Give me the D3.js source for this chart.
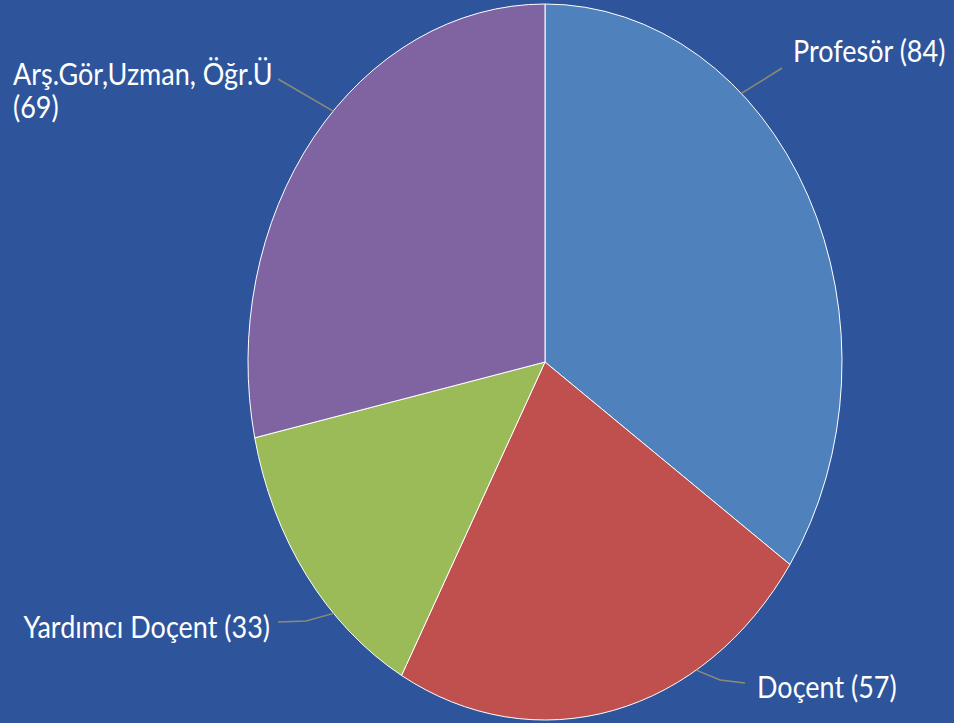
<!DOCTYPE html>
<html>
<head>
<meta charset="utf-8">
<script src="https://cdn.jsdelivr.net/npm/d3@7"></script>
<style>
  html, body { margin: 0; padding: 0; background: #2E559C; }
  svg { display: block; }
  .lbl { font-family: Lato, "Open Sans", sans-serif; font-size: 27px; fill: #ffffff; }
</style>
</head>
<body>
<div id="chart"></div>
<script>
// 数据
const categories = ['Profesör', 'Doçent', 'Yardımcı Doçent', 'Arş.Gör,Uzman, Öğr.Ü'];
const values = [84, 57, 33, 69];
const colors = ['#4F81BD', '#C0504D', '#9BBB59', '#8064A2'];

// 标签布局 (leader angle on the pie edge, line end, text anchor)
const labelLayout = [
  {ang: 41.4, mid: null, end: [782, 68], tx: 793, ty: 62, anchor: 'start', lines: ['Profesör (84)']},
  {ang: 149.4, mid: [720, 680], end: [745, 683], tx: 757, ty: 698, anchor: 'start', lines: ['Doçent (57)']},
  {ang: 225.4, mid: [306, 621], end: [278, 622], tx: 270, ty: 638, anchor: 'end', lines: ['Yardımcı Doçent (33)']},
  {ang: 314.5, mid: null, end: [278, 79], tx: 13, ty: 85, anchor: 'start', lines: ['Arş.Gör,Uzman, Öğr.Ü', '(69)']}
];

const width = 954, height = 723;
const cx = 545, cy = 362, rx = 297, ry = 358;
const textStretch = 1.12; // 原图整体被纵向拉伸

const svg = d3.select('#chart').append('svg')
  .attr('width', width)
  .attr('height', height);

svg.append('rect').attr('width', width).attr('height', height).attr('fill', '#2E559C');

const pie = d3.pie().sort(null).value(d => d);
const arcs = pie(values);
const arc = d3.arc().innerRadius(0).outerRadius(rx);

// ellipse: draw circle, stretch vertically
const g = svg.append('g')
  .attr('transform', `translate(${cx},${cy}) scale(1,${ry / rx})`);

g.selectAll('path.slice')
  .data(arcs)
  .enter().append('path')
  .attr('class', 'slice')
  .attr('d', arc)
  .attr('fill', (d, i) => colors[i])
  .attr('stroke', '#ffffff')
  .attr('stroke-width', 1)
  .attr('vector-effect', 'non-scaling-stroke');

// leader lines
const edge = a => {
  const r = a * Math.PI / 180;
  return [cx + rx * Math.sin(r), cy - ry * Math.cos(r)];
};

labelLayout.forEach((l, i) => {
  const pts = [edge(l.ang)];
  if (l.mid) pts.push(l.mid);
  pts.push(l.end);
  svg.append('path')
    .attr('d', d3.line()(pts))
    .attr('fill', 'none')
    .attr('stroke', '#8C8C74')
    .attr('stroke-width', 1.5);

  const t = svg.append('text')
    .attr('class', 'lbl')
    .attr('transform', `translate(${l.tx},${l.ty}) scale(1,${textStretch})`)
    .attr('text-anchor', l.anchor);
  l.lines.forEach((s, j) => {
    t.append('tspan').attr('x', 0).attr('dy', j === 0 ? 0 : 33 / textStretch).text(s);
  });
});
</script>
</body>
</html>
